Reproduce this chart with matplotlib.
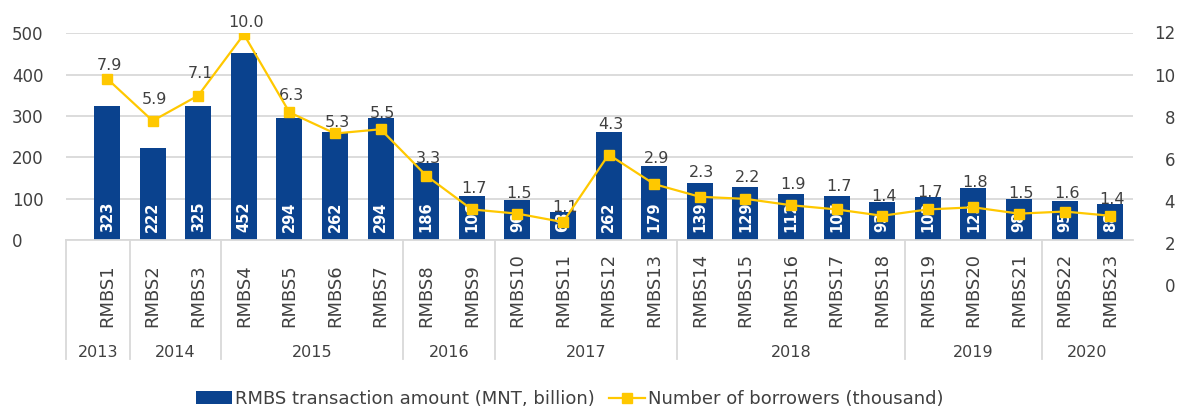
import matplotlib
matplotlib.use('Agg')
import matplotlib.pyplot as plt
import matplotlib.transforms as mtransforms
from matplotlib.patches import Patch
from matplotlib.lines import Line2D

plt.rcParams['font.family'] = ['DejaVu Sans']

issues = ['RMBS1', 'RMBS2', 'RMBS3', 'RMBS4', 'RMBS5', 'RMBS6', 'RMBS7', 'RMBS8',
          'RMBS9', 'RMBS10', 'RMBS11', 'RMBS12', 'RMBS13', 'RMBS14', 'RMBS15',
          'RMBS16', 'RMBS17', 'RMBS18', 'RMBS19', 'RMBS20', 'RMBS21', 'RMBS22', 'RMBS23']
amount = [323, 222, 325, 452, 294, 262, 294, 186, 106, 96, 68, 262, 179, 139, 129,
          112, 107, 93, 103, 125, 98, 95, 88]
borrowers = [7.9, 5.9, 7.1, 10.0, 6.3, 5.3, 5.5, 3.3, 1.7, 1.5, 1.1, 4.3, 2.9, 2.3,
             2.2, 1.9, 1.7, 1.4, 1.7, 1.8, 1.5, 1.6, 1.4]
years = ['2013', '2014', '2015', '2016', '2017', '2018', '2019', '2020']
issues_per_year = [1, 2, 4, 2, 4, 5, 3, 2]

left_ticks = [0, 100, 200, 300, 400, 500]
right_tick_labels = [0, 2, 4, 6, 8, 10, 12]

# how far (px) each line label sits above its marker, as placed in the original
label_lift = [10, 18, 19, 8, 13, 7, 12, 14, 17, 17, 11, 27, 22, 21, 18, 17, 19,
              16, 13, 21, 17, 15, 13]

bar_color = '#0A428E'
line_color = '#FFC800'
text_color = '#404040'
grid_color = '#D9D9D9'

fig = plt.figure(figsize=(11.77, 4.07), dpi=100)
ax = fig.add_axes([0.0561, 0.4103, 0.9065, 0.5079])
ax2 = ax.twinx()

x = list(range(len(issues)))
ax.bar(x, amount, width=0.57, color=bar_color, zorder=2)
ax.set_xlim(-0.9, len(issues) - 0.5)
ax.set_ylim(0, 500)
ax.set_axisbelow(True)
ax.yaxis.grid(True, color=grid_color, linewidth=1.3)
ax.set_yticks(left_ticks)
ax.set_yticklabels([str(t) for t in left_ticks])
ax.tick_params(axis='y', length=0, pad=38.9, labelsize=12, labelcolor=text_color)
for lab in ax.get_yticklabels():
    lab.set_horizontalalignment('left')
ax.set_xticks([])
for s in ['top', 'left', 'right']:
    ax.spines[s].set_visible(False)
    ax2.spines[s].set_visible(False)
ax.spines['bottom'].set_color(grid_color)
ax.spines['bottom'].set_linewidth(1.3)
ax2.spines['bottom'].set_visible(False)

# bar value labels (white, inside the bars)
for i, v in zip(x, amount):
    ax.annotate(str(v), (i, 0), xytext=(0, 8), textcoords='offset pixels',
                rotation=90, ha='center', va='bottom', color='white',
                fontsize=10.5, fontweight='bold', zorder=3)

# borrowers line
ax2.plot(x, borrowers, color=line_color, linewidth=1.6, marker='s',
         markersize=7.4, zorder=4)
ax2.set_ylim(0.25, 10.05)
ax2.set_yticks([])
for i, v, lift in zip(x, borrowers, label_lift):
    ax2.annotate(f'{v:.1f}', (i, v), xytext=(2, lift - 4), textcoords='offset pixels',
                 ha='center', va='bottom', color=text_color, fontsize=11.5)

# right axis labels (shifted by 2 as in the original)
rtrans = mtransforms.offset_copy(ax2.get_yaxis_transform(), fig=fig, x=42, y=0, units='dots')
for lab in right_tick_labels:
    ax2.text(1, lab - 2, str(lab), transform=rtrans, ha='right', va='center',
             fontsize=12, color=text_color, clip_on=False)

# category labels
ctrans = mtransforms.offset_copy(ax.get_xaxis_transform(), fig=fig, x=0, y=-87, units='dots')
for i, name in zip(x, issues):
    ax.text(i, 0, name, transform=ctrans, rotation=90, ha='center', va='bottom',
            fontsize=13, color=text_color, clip_on=False)

# year groups and separators
ytrans = mtransforms.offset_copy(ax.get_xaxis_transform(), fig=fig, x=0, y=-112, units='dots')
bounds = [-0.9]
start = 0
for n in issues_per_year:
    start += n
    bounds.append(start - 0.5)
for k, yr in enumerate(years):
    ax.text((bounds[k] + bounds[k + 1]) / 2, 0, yr, transform=ytrans, ha='center',
            va='center', fontsize=11.5, color=text_color, clip_on=False)
for b in bounds[:-1]:
    ax.plot([b, b], [0, -0.576], transform=ax.get_xaxis_transform(), color=grid_color,
            linewidth=1.3, clip_on=False)

handles = [Patch(facecolor=bar_color, edgecolor='none'),
           Line2D([0], [0], color=line_color, linewidth=1.6, marker='s', markersize=7.4)]
fig.legend(handles, ['RMBS transaction amount (MNT, billion)', 'Number of borrowers (thousand)'],
           loc='center', bbox_to_anchor=(0.484, 0.02), ncol=2, frameon=False,
           fontsize=13, labelcolor=text_color, handlelength=2.0, handletextpad=0.15,
           columnspacing=0.8, borderpad=0)

fig.savefig('out.png', dpi=100)
